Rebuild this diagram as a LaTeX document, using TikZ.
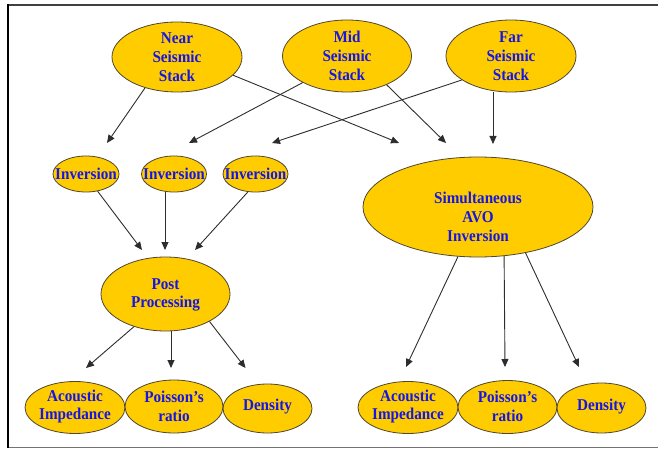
\documentclass[tikz,border=0pt]{standalone}
\usepackage{fontspec}
\setmainfont{Liberation Serif}[FakeStretch=0.92]
\usetikzlibrary{shapes.geometric,arrows.meta}
\definecolor{gold}{RGB}{255,204,0}
\definecolor{txtblue}{RGB}{22,22,228}
\definecolor{edge}{RGB}{80,70,50}
\definecolor{lin}{RGB}{45,45,45}
\begin{document}
\begin{tikzpicture}[x=1pt,y=-1pt,
  ell/.style={ellipse, draw=edge, line width=0.8pt, fill=gold, inner sep=0pt},
  txt/.style={text=txtblue, align=center, inner sep=0pt,
    font=\bfseries\fontsize{16.5}{18.8}\selectfont},
  arr/.style={draw=lin, line width=0.9pt, -{Triangle[length=8pt,width=7pt]}}]
\useasboundingbox (0,0) rectangle (658,449);
% frame
\coordinate (ftl) at (8,5);
\coordinate (ftr) at (658,5);
\coordinate (fbl) at (8,447.5);
\coordinate (fbr) at (658,447.5);
\draw[line width=1.6pt, color=black!75] (ftl) -- (ftr);
\draw[line width=1.2pt, color=black!55] (fbl) -- (fbr);
\draw[line width=2.5pt, color=black] (8,4.2) -- (8,448.2);
% top row
\node[ell, minimum width=130pt, minimum height=70pt] (near) at (177,57) {};
\node[txt] (neart) at (177,57) {Near\\Seismic\\Stack};
\node[ell, minimum width=129pt, minimum height=72pt] (mid) at (347,56) {};
\node[txt] (midt) at (347,56) {Mid\\Seismic\\Stack};
\node[ell, minimum width=130pt, minimum height=72pt] (far) at (511,56) {};
\node[txt] (fart) at (511,56) {Far\\Seismic\\Stack};
% inversions
\node[ell, minimum width=66pt, minimum height=36pt] (inv1) at (86,174) {};
\node[txt] (inv1t) at (86,173.5) {Inversion};
\node[ell, minimum width=65pt, minimum height=36pt] (inv2) at (174,174) {};
\node[txt] (inv2t) at (174,173.5) {Inversion};
\node[ell, minimum width=65pt, minimum height=36pt] (inv3) at (255.5,174) {};
\node[txt] (inv3t) at (255.5,173.5) {Inversion};
\node[ell, minimum width=230pt, minimum height=100pt] (sim) at (478,207) {};
\node[txt] (simt) at (478,217) {Simultaneous\\AVO\\Inversion};
% post processing
\node[ell, minimum width=129pt, minimum height=74pt] (post) at (165.5,294) {};
\node[txt] (postt) at (165.5,295) {Post\\Processing};
% bottom left
\node[ell, minimum width=100pt, minimum height=52pt] (ai1) at (75,407.5) {};
\node[txt] (ai1t) at (75,406.5) {Acoustic\\Impedance};
\node[ell, minimum width=98pt, minimum height=53pt] (pr1) at (174,406.5) {};
\node[txt] (pr1t) at (174,406) {Poisson’s\\ratio};
\node[ell, minimum width=89pt, minimum height=49pt] (de1) at (267.5,408.5) {};
\node[txt] (de1t) at (267.5,407) {Density};
% bottom right
\node[ell, minimum width=100pt, minimum height=52pt] (ai2) at (408,407.5) {};
\node[txt] (ai2t) at (408,406.5) {Acoustic\\Impedance};
\node[ell, minimum width=99pt, minimum height=53pt] (pr2) at (507.5,407) {};
\node[txt] (pr2t) at (507.5,406) {Poisson’s\\ratio};
\node[ell, minimum width=89pt, minimum height=50pt] (de2) at (601.5,408) {};
\node[txt] (de2t) at (601.5,407) {Density};
% arrow tips
\coordinate (t1) at (107,143);
\coordinate (t2) at (399,143);
\coordinate (t3) at (189,143);
\coordinate (t4) at (446,143);
\coordinate (t5) at (272,143);
\coordinate (t6) at (493,144);
\coordinate (t7) at (142,250);
\coordinate (t8) at (165,250);
\coordinate (t9) at (195,250);
\coordinate (t10) at (86,368);
\coordinate (t11) at (171,368);
\coordinate (t12) at (245.5,368);
\coordinate (t13) at (406,367);
\coordinate (t14) at (505,367);
\coordinate (t15) at (579,367);
% connectors
\draw[arr] (near.224) -- (t1);
\draw[arr] (near.342) -- (t2);
\draw[arr] (mid.211.5) -- (t3);
\draw[arr] (mid.324) -- (t4);
\draw[arr] (far.206) -- (t5);
\draw[arr] (far.south -| t6) -- (t6);
\draw[arr] (inv1.304) -- (t7);
\draw[arr] (inv2.south -| t8) -- (t8);
\draw[arr] (inv3.247) -- (t9);
\draw[arr] (post.226) -- (t10);
\draw[arr] (post.south -| t11) -- (t11);
\draw[arr] (post.328) -- (t12);
\draw[arr] (sim.248) -- (t13);
\draw[arr] (sim.298.4) -- (t14);
\draw[arr] (sim.316) -- (t15);
\end{tikzpicture}
\end{document}
